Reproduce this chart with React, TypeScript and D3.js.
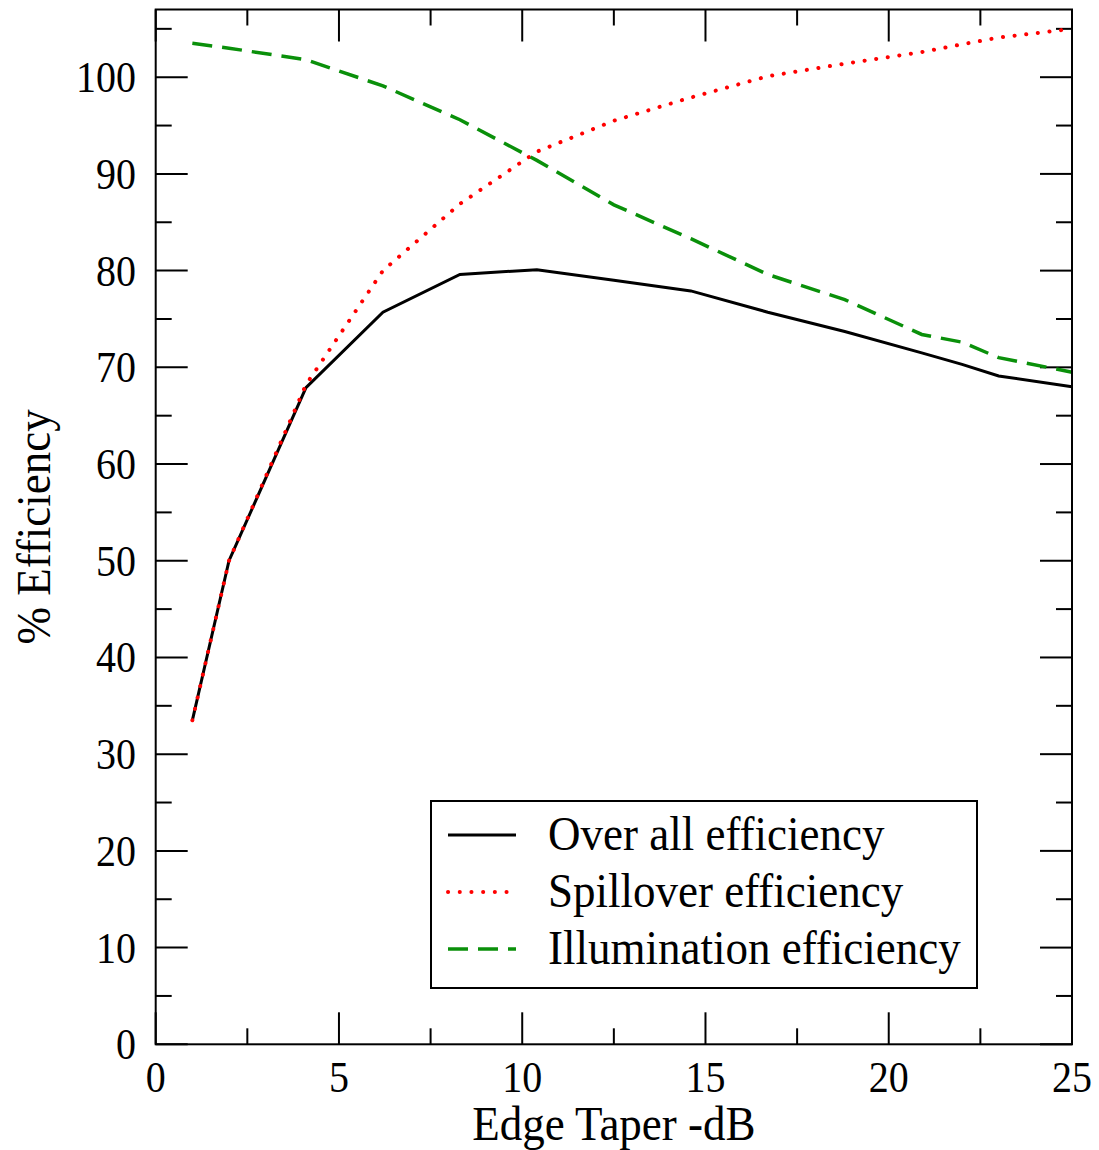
import React, { useRef, useEffect } from "react";
import * as d3 from "d3";

const fontFamily = "'Liberation Serif', 'Times New Roman', serif";

// edge taper (dB) sample points
const taper = [1, 2, 4.1, 6.2, 8.3, 10.4, 12.5, 14.6, 16.7, 18.8, 20.9, 22, 23, 25];

// efficiencies in %
const overall = [33.5, 50.0, 67.9, 75.7, 79.6, 80.1, 79.0, 77.9, 75.7, 73.7, 71.5, 70.3, 69.1, 68.0];
const spillover = [33.5, 50.0, 68.2, 80.0, 86.9, 92.3, 95.5, 97.9, 100.1, 101.4, 102.6, 103.4, 104.1, 105.0];
const illumination = [103.5, 103.0, 101.8, 99.1, 95.6, 91.4, 86.8, 83.3, 79.6, 77.0, 73.4, 72.6, 71.0, 69.5];

const xMajor = [0, 5, 10, 15, 20, 25];
const xMinor = [2.5, 7.5, 12.5, 17.5, 22.5];
const yMajor = [0, 10, 20, 30, 40, 50, 60, 70, 80, 90, 100];
const yMinor = [5, 15, 25, 35, 45, 55, 65, 75, 85, 95, 105];

const seriesNames = ["Over all efficiency", "Spillover efficiency", "Illumination efficiency"];
const seriesColors = ["#000000", "#ff0000", "#0a900a"];
const seriesDash = [null, "0.1,11.6", "20,10"];
const seriesWidth = [3, 4, 3.5];
const seriesData = [overall, spillover, illumination];

// the original lettering is a little taller than it is wide
const stretch = 1.1;

export default function App() {
  const ref = useRef<SVGSVGElement>(null);
  const width = 1099;
  const height = 1150;

  useEffect(() => {
    document.body.style.margin = "0";
    const left = 155.7, right = 1072, top = 9.5, bottom = 1044.3;

    const svg = d3.select(ref.current);
    svg.selectAll("*").remove();
    svg.style("background", "#fff").style("font-family", fontFamily);

    const x = d3.scaleLinear().domain([0, 25]).range([left, right]);
    const y = d3.scaleLinear().domain([0, 107]).range([bottom, top]);

    const g = svg.append("g");

    // ticks, inward on all four sides
    const major = 32, minor = 16;
    const tick = (x1: number, y1: number, x2: number, y2: number) =>
      g.append("line").attr("x1", x1).attr("y1", y1).attr("x2", x2).attr("y2", y2)
        .attr("stroke", "#000").attr("stroke-width", 2);
    xMajor.forEach(v => { tick(x(v), bottom, x(v), bottom - major); tick(x(v), top, x(v), top + major); });
    xMinor.forEach(v => { tick(x(v), bottom, x(v), bottom - minor); tick(x(v), top, x(v), top + minor); });
    yMajor.forEach(v => { tick(left, y(v), left + major, y(v)); tick(right, y(v), right - major, y(v)); });
    yMinor.forEach(v => { tick(left, y(v), left + minor, y(v)); tick(right, y(v), right - minor, y(v)); });

    // lines
    const line = d3.line<number>().x((d, i) => x(taper[i])).y(d => y(d));
    seriesData.forEach((s, k) => {
      g.append("path")
        .attr("d", line(s))
        .attr("fill", "none")
        .attr("stroke", seriesColors[k])
        .attr("stroke-width", seriesWidth[k])
        .attr("stroke-linecap", k === 1 ? "round" : "butt")
        .attr("stroke-dasharray", seriesDash[k]);
    });

    // frame
    g.append("rect")
      .attr("x", left).attr("y", top)
      .attr("width", right - left).attr("height", bottom - top)
      .attr("fill", "none").attr("stroke", "#000").attr("stroke-width", 2);

    // tick labels
    g.selectAll("text.xl").data(xMajor).join("text")
      .attr("transform", d => `translate(${x(d)},1092) scale(1,${stretch})`)
      .attr("text-anchor", "middle").attr("font-size", 40)
      .text(d => d);
    g.selectAll("text.yl").data(yMajor).join("text")
      .attr("transform", d => `translate(136,${y(d) + 15}) scale(1,${stretch})`)
      .attr("text-anchor", "end").attr("font-size", 40)
      .text(d => d);

    // axis titles
    g.append("text")
      .attr("transform", `translate(${(left + right) / 2},1140) scale(1,${stretch})`)
      .attr("text-anchor", "middle").attr("font-size", 45)
      .text("Edge Taper -dB");
    g.append("text")
      .attr("transform", `translate(50,${(top + bottom) / 2}) rotate(-90) scale(1,${stretch})`)
      .attr("text-anchor", "middle").attr("font-size", 45)
      .text("% Efficiency");

    // legend
    const lg = g.append("g");
    lg.append("rect")
      .attr("x", 431).attr("y", 801).attr("width", 546).attr("height", 187)
      .attr("fill", "#fff").attr("stroke", "#000").attr("stroke-width", 2);
    seriesNames.forEach((name, k) => {
      const ly = 835 + k * 57;
      lg.append("line")
        .attr("x1", 448).attr("x2", 516).attr("y1", ly).attr("y2", ly)
        .attr("stroke", seriesColors[k])
        .attr("stroke-width", seriesWidth[k])
        .attr("stroke-linecap", k === 1 ? "round" : "butt")
        .attr("stroke-dasharray", seriesDash[k]);
      lg.append("text")
        .attr("transform", `translate(548,${ly + 15}) scale(1,${stretch})`)
        .attr("font-size", 45)
        .text(name);
    });
  }, []);

  return <svg ref={ref} width={width} height={height} style={{ display: "block" }}></svg>;
}
